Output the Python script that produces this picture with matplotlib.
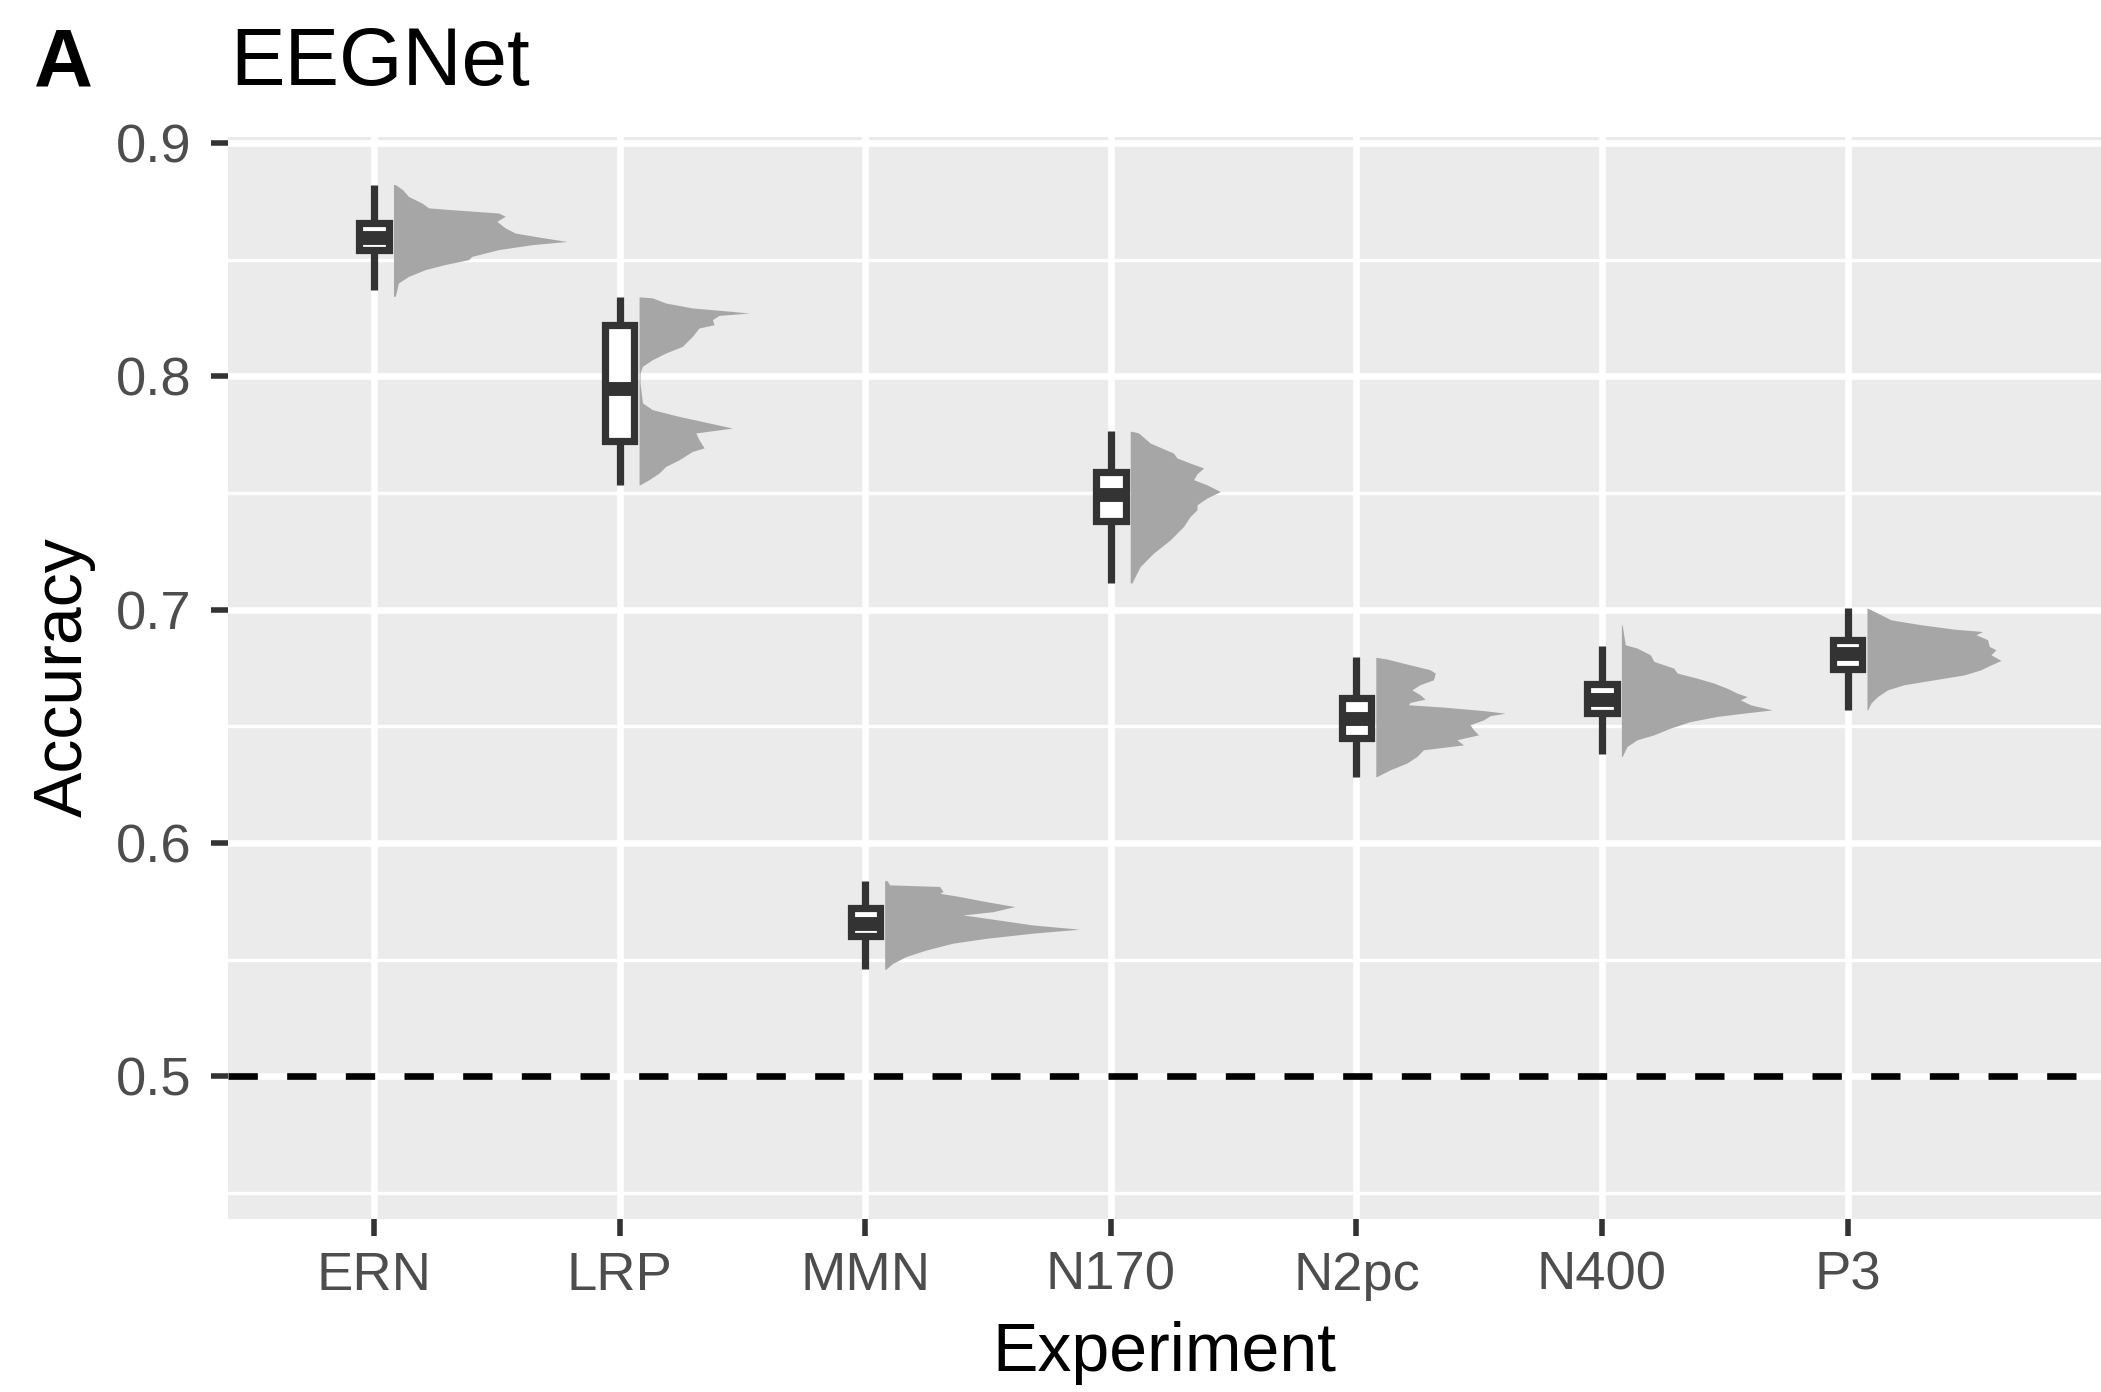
import matplotlib
matplotlib.use('Agg')
import matplotlib.pyplot as plt
import numpy as np

plt.rcParams['font.family'] = ['Liberation Sans', 'DejaVu Sans']

# categories and boxplot summary (accuracy)
EXPERIMENTS = ['ERN', 'LRP', 'MMN', 'N170', 'N2pc', 'N400', 'P3']
WHISKER_LOW = [0.8371, 0.7535, 0.5458, 0.7114, 0.6284, 0.6382, 0.6570]
BOX_Q1 = [0.8542, 0.7723, 0.5600, 0.7381, 0.6450, 0.6557, 0.6747]
MEDIAN = [0.8593, 0.7944, 0.5653, 0.7489, 0.6530, 0.6614, 0.6810]
BOX_Q3 = [0.8656, 0.8221, 0.5721, 0.7590, 0.6619, 0.6679, 0.6869]
WHISKER_HIGH = [0.8822, 0.8340, 0.5838, 0.7764, 0.6795, 0.6845, 0.7006]
CHANCE = 0.5

# half-violin outlines: accuracy level and density width (x units)
ERN_ACC = [0.8822, 0.8800, 0.8771, 0.8743, 0.8722, 0.8714, 0.8700, 0.8686, 0.8664, 0.8636, 0.8614, 0.8597,
           0.8578, 0.8564, 0.8543, 0.8514, 0.8500, 0.8479, 0.8457, 0.8428, 0.8400, 0.8371, 0.8343]
ERN_DENS = [0.007, 0.037, 0.061, 0.115, 0.143, 0.238, 0.428, 0.455, 0.421, 0.455, 0.496, 0.591,
            0.706, 0.563, 0.428, 0.319, 0.306, 0.210, 0.129, 0.061, 0.020, 0.014, 0.007]

LRP_ACC = [0.8340, 0.8336, 0.8314, 0.8293, 0.8278, 0.8271, 0.8261, 0.8243, 0.8221, 0.8207, 0.8171, 0.8128,
           0.8100, 0.8071, 0.8043, 0.8014, 0.7971, 0.7886, 0.7857, 0.7828, 0.7800, 0.7778, 0.7757, 0.7728,
           0.7693, 0.7678, 0.7642, 0.7614, 0.7585, 0.7557, 0.7535]
LRP_DENS = [0.010, 0.054, 0.109, 0.217, 0.380, 0.448, 0.326, 0.299, 0.305, 0.244, 0.217, 0.176,
            0.109, 0.054, 0.014, 0.004, 0.004, 0.014, 0.054, 0.163, 0.285, 0.380, 0.231, 0.244,
            0.265, 0.217, 0.163, 0.109, 0.081, 0.041, 0.004]

MMN_ACC = [0.5838, 0.5820, 0.5813, 0.5791, 0.5784, 0.5770, 0.5748, 0.5727, 0.5705, 0.5691, 0.5677, 0.5648,
           0.5630, 0.5613, 0.5591, 0.5570, 0.5541, 0.5513, 0.5484, 0.5458]
MMN_DENS = [0.010, 0.020, 0.224, 0.238, 0.224, 0.305, 0.414, 0.530, 0.441, 0.319, 0.414, 0.604,
            0.794, 0.604, 0.414, 0.278, 0.170, 0.088, 0.034, 0.004]

N170_ACC = [0.7764, 0.7757, 0.7714, 0.7671, 0.7650, 0.7628, 0.7607, 0.7582, 0.7557, 0.7535, 0.7506, 0.7478,
            0.7449, 0.7428, 0.7399, 0.7356, 0.7299, 0.7242, 0.7185, 0.7142, 0.7114]
N170_DENS = [0.007, 0.034, 0.081, 0.176, 0.190, 0.244, 0.299, 0.272, 0.258, 0.312, 0.367, 0.312,
             0.272, 0.272, 0.244, 0.217, 0.163, 0.095, 0.041, 0.020, 0.007]

N2PC_ACC = [0.6795, 0.6788, 0.6763, 0.6742, 0.6728, 0.6699, 0.6678, 0.6656, 0.6635, 0.6616, 0.6602, 0.6592,
            0.6582, 0.6567, 0.6556, 0.6545, 0.6527, 0.6506, 0.6485, 0.6463, 0.6442, 0.6420, 0.6399, 0.6370,
            0.6342, 0.6313, 0.6284]
N2PC_DENS = [0.004, 0.045, 0.140, 0.221, 0.242, 0.235, 0.180, 0.147, 0.180, 0.201, 0.140, 0.133,
             0.275, 0.438, 0.527, 0.466, 0.438, 0.384, 0.398, 0.418, 0.330, 0.357, 0.194, 0.167,
             0.126, 0.058, 0.004]

N400_ACC = [0.6935, 0.6849, 0.6835, 0.6806, 0.6778, 0.6749, 0.6728, 0.6706, 0.6685, 0.6663, 0.6642, 0.6627,
            0.6613, 0.6592, 0.6570, 0.6556, 0.6542, 0.6520, 0.6492, 0.6463, 0.6442, 0.6413, 0.6370]
N400_DENS = [0.003, 0.016, 0.064, 0.118, 0.132, 0.213, 0.227, 0.308, 0.376, 0.430, 0.471, 0.512,
             0.485, 0.525, 0.614, 0.498, 0.390, 0.281, 0.200, 0.132, 0.064, 0.023, 0.003]

P3_ACC = [0.7006, 0.6985, 0.6956, 0.6935, 0.6916, 0.6906, 0.6892, 0.6871, 0.6842, 0.6828, 0.6806, 0.6782,
          0.6763, 0.6742, 0.6720, 0.6699, 0.6678, 0.6656, 0.6627, 0.6599, 0.6570]
P3_DENS = [0.003, 0.043, 0.098, 0.220, 0.356, 0.471, 0.444, 0.491, 0.498, 0.525, 0.505, 0.546,
           0.505, 0.464, 0.396, 0.274, 0.152, 0.084, 0.043, 0.016, 0.003]

VIOLINS = [(ERN_ACC, ERN_DENS), (LRP_ACC, LRP_DENS), (MMN_ACC, MMN_DENS), (N170_ACC, N170_DENS),
           (N2PC_ACC, N2PC_DENS), (N400_ACC, N400_DENS), (P3_ACC, P3_DENS)]

DARK = '#333333'
TEXT_GREY = '#4D4D4D'
VIOLIN_GREY = '#A6A6A6'


def main():
    fig = plt.figure(figsize=(2101 / 200, 1392 / 200), dpi=200)
    ax = fig.add_axes([0.1085, 0.1240, 1 - 0.1085, 0.9018 - 0.1240])
    ax.set_facecolor('#EBEBEB')
    for s in ax.spines.values():
        s.set_visible(False)

    positions = np.arange(1, len(EXPERIMENTS) + 1)

    # grid
    ax.set_yticks([0.5, 0.6, 0.7, 0.8, 0.9])
    ax.set_yticklabels(['0.5', '0.6', '0.7', '0.8', '0.9'])
    ax.set_yticks([0.45, 0.55, 0.65, 0.75, 0.85], minor=True)
    ax.set_xticks(positions)
    ax.set_xticklabels(EXPERIMENTS)
    ax.grid(True, which='major', color='white', linewidth=2.4)
    ax.grid(True, which='minor', axis='y', color='white', linewidth=1.2)
    ax.set_axisbelow(True)

    # half violins
    for i, (acc, dens) in enumerate(VIOLINS):
        x0 = positions[i] + 0.079
        ax.fill_betweenx(acc, x0, x0 + np.array(dens), color=VIOLIN_GREY, linewidth=0, zorder=2)

    # boxplots
    stats = []
    for i in range(len(EXPERIMENTS)):
        stats.append(dict(whislo=WHISKER_LOW[i], q1=BOX_Q1[i], med=MEDIAN[i],
                          q3=BOX_Q3[i], whishi=WHISKER_HIGH[i], fliers=[]))
    ax.bxp(stats, positions=positions, widths=0.12, showcaps=False, showfliers=False,
           patch_artist=True, manage_ticks=False,
           boxprops=dict(facecolor='white', edgecolor=DARK, linewidth=2.6, zorder=3),
           whiskerprops=dict(color=DARK, linewidth=2.6, solid_capstyle='butt', zorder=3),
           medianprops=dict(color=DARK, linewidth=5.0, solid_capstyle='butt', zorder=4))

    # chance level
    ax.axhline(CHANCE, color='black', linewidth=2.4, linestyle=(0, (4.4, 4.4)), zorder=2.5)

    ax.set_xlim(0.405, 8.032)
    ax.set_ylim(0.4386, 0.9027)

    ax.tick_params(axis='both', which='major', length=6.2, width=2.0, color=DARK,
                   labelcolor=TEXT_GREY, labelsize=19.6)
    ax.tick_params(axis='y', which='major', pad=7)
    ax.tick_params(axis='x', which='major', pad=5)
    ax.tick_params(which='minor', length=0)

    fig.text(1164.5 / 2101, 1 - 1371 / 1392, 'Experiment', fontsize=24.5, ha='center', va='baseline')
    fig.text(64 / 2101, 1 - 677 / 1392, 'Accuracy', fontsize=24.5, ha='center', va='center', rotation=90)
    fig.text(230 / 2101, 1 - 85 / 1392, 'EEGNet', fontsize=29.4, ha='left', va='baseline')
    fig.text(34 / 2101, 1 - 85 / 1392, 'A', fontsize=29.4, fontweight='bold', ha='left', va='baseline')

    fig.savefig('out.png', dpi=200)
    plt.close(fig)


if __name__ == '__main__':
    main()
